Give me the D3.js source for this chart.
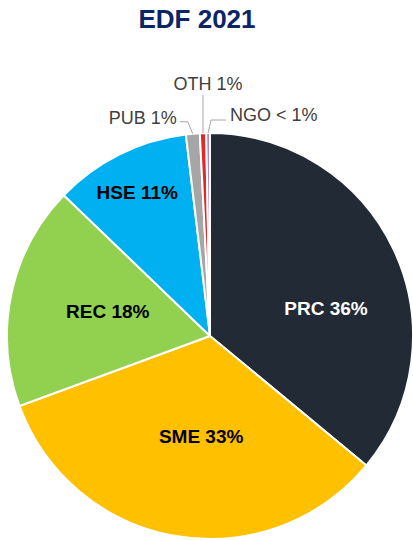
<!DOCTYPE html>
<meta charset="utf-8">
<script src="https://d3js.org/d3.v7.min.js"></script>
<style>
  body { margin: 0; background: #fff; }
  text { font-family: "Liberation Sans", Arial, sans-serif; }
</style>
<div id="my_dataviz"></div>
<script>
// data
var categories = ["PRC", "SME", "REC", "HSE", "PUB", "OTH", "NGO"];
var shares     = [36.0, 33.4, 17.8, 10.9, 1.1, 0.5, 0.3];
var labels     = ["PRC 36%", "SME 33%", "REC 18%", "HSE 11%", "PUB 1%", "OTH 1%", "NGO < 1%"];
var colors     = ["#222a35", "#ffc000", "#92d050", "#00b0f0", "#a6a6a6", "#e02a2a", "#a58ad8"];

// layout
var width = 413, height = 540,
    cx = 210, cy = 336, radius = 203;

// inner label nudges from the arc centroid (px)
var innerNudge = { PRC: [15, 20], SME: [10, -10], REC: [7, -2], HSE: [-23, -44] };
var innerFill  = { PRC: "#ffffff", SME: "#000000", REC: "#000000", HSE: "#000000" };
// outer labels: leader line bend / end relative to slice edge, then text offset
var outerLayout = {
  PUB: { bend: [-5, -12], end: [-13, -12], text: [-3, 2], anchor: "end" },
  OTH: { bend: [0, -20], end: [0, -38], text: [5, -5], anchor: "middle" },
  NGO: { bend: [3, -13], end: [18, -13], text: [4, 1], anchor: "start" }
};

var data = categories.map(function(c, i) {
  return { cat: c, value: shares[i], label: labels[i], color: colors[i] };
});

var svg = d3.select("#my_dataviz")
  .append("svg")
    .attr("width", width)
    .attr("height", height);

svg.append("text")
  .attr("x", 197)
  .attr("y", 28)
  .attr("text-anchor", "middle")
  .style("font-size", "26px")
  .style("font-weight", "bold")
  .style("fill", "#0b2566")
  .text("EDF 2021");

var g = svg.append("g")
  .attr("transform", "translate(" + cx + "," + cy + ")");

var pie = d3.pie()
  .sort(null)
  .value(function(d) { return d.value; });

var arcs = pie(data);

var arc = d3.arc().innerRadius(0).outerRadius(radius);
var labelArc = d3.arc().innerRadius(radius * 0.55).outerRadius(radius * 0.55);
var edgeArc = d3.arc().innerRadius(radius).outerRadius(radius);

g.selectAll("path.slice")
  .data(arcs)
  .enter()
  .append("path")
    .attr("class", "slice")
    .attr("d", arc)
    .attr("fill", function(d) { return d.data.color; })
    .attr("stroke", "#fff")
    .attr("stroke-width", 2)
    .attr("stroke-linejoin", "round");

// inner labels
g.selectAll("text.inner")
  .data(arcs.filter(function(d) { return innerNudge[d.data.cat]; }))
  .enter()
  .append("text")
    .attr("class", "inner")
    .attr("transform", function(d) {
      var c = labelArc.centroid(d), n = innerNudge[d.data.cat];
      return "translate(" + (c[0] + n[0]) + "," + (c[1] + n[1]) + ")";
    })
    .attr("text-anchor", "middle")
    .attr("dy", "0.35em")
    .style("font-size", "19px")
    .style("font-weight", "bold")
    .style("fill", function(d) { return innerFill[d.data.cat]; })
    .text(function(d) { return d.data.label; });

// outer labels with leader lines
var outer = arcs.filter(function(d) { return outerLayout[d.data.cat]; });

g.selectAll("polyline.leader")
  .data(outer)
  .enter()
  .append("polyline")
    .attr("class", "leader")
    .attr("points", function(d) {
      var p = edgeArc.centroid(d), o = outerLayout[d.data.cat];
      return [p, [p[0] + o.bend[0], p[1] + o.bend[1]], [p[0] + o.end[0], p[1] + o.end[1]]].join(" ");
    })
    .attr("fill", "none")
    .attr("stroke", "#a6a6a6")
    .attr("stroke-width", 1);

g.selectAll("text.outer")
  .data(outer)
  .enter()
  .append("text")
    .attr("class", "outer")
    .attr("x", function(d) { var p = edgeArc.centroid(d), o = outerLayout[d.data.cat]; return p[0] + o.end[0] + o.text[0]; })
    .attr("y", function(d) { var p = edgeArc.centroid(d), o = outerLayout[d.data.cat]; return p[1] + o.end[1] + o.text[1]; })
    .attr("text-anchor", function(d) { return outerLayout[d.data.cat].anchor; })
    .style("font-size", "18px")
    .style("fill", "#404040")
    .text(function(d) { return d.data.label; });
</script>
